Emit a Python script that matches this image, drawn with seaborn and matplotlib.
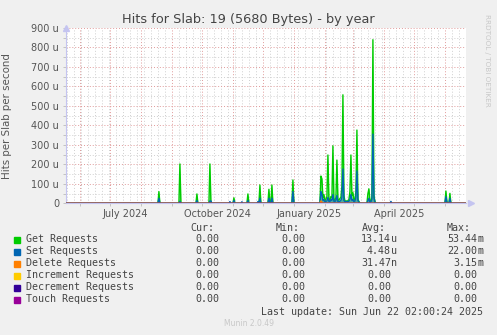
"""Munin 'by year' slab hits graph, redrawn with seaborn."""

import pandas as pd
import matplotlib
matplotlib.use("Agg")
import matplotlib.pyplot as plt
import matplotlib.dates as mdates
import seaborn as sns

# Graph window
start = pd.Timestamp("2024-05-18 02:00")
end = pd.Timestamp("2025-06-22 02:00")

# Daily averages (micro hits per second)
spike_dates = ["2024-08-19", "2024-09-09", "2024-09-26", "2024-10-09", "2024-10-10",
               "2024-10-29", "2024-11-02", "2024-11-10", "2024-11-16", "2024-11-26",
               "2024-11-28", "2024-12-07", "2024-12-10", "2024-12-31", "2025-04-08",
               "2025-06-02", "2025-06-03", "2025-06-06"]
spike_get = [60, 202, 48, 202, 5, 0, 28, 0, 48, 0, 94, 72, 94, 120, 4, 63, 8, 51]
spike_set = [26, 10, 14, 12, 12, 9, 14, 8, 14, 9, 26, 26, 26, 60, 10, 34, 6, 26]

# busy stretch, one value per day from 2025-01-28
busy_start = "2025-01-28"
busy_get = [140, 125, 30, 45, 15, 20, 35, 248, 20, 15, 35, 30, 295, 20, 15, 30,
            222, 20, 15, 25, 30, 90, 557, 40, 12, 12, 12, 12, 20, 60, 248, 40,
            55, 15, 20, 60, 376, 20, 10, 0, 0, 0, 0, 0, 0, 0, 0, 50, 74, 15,
            10, 30, 840, 40, 10]
busy_set = [60, 45, 15, 20, 8, 10, 12, 30, 10, 8, 20, 15, 45, 10, 8, 15,
            40, 8, 8, 10, 15, 30, 176, 15, 8, 8, 10, 8, 10, 20, 45, 15,
            20, 8, 10, 30, 166, 15, 5, 0, 0, 0, 0, 0, 0, 0, 0, 15, 25, 5,
            8, 20, 355, 30, 5]
delete_dates = ["2025-01-28", "2025-01-29"]
delete_vals = [12, 6]

series = ["Get Requests", "Set Requests", "Delete Requests",
          "Increment Requests", "Decrement Requests", "Touch Requests"]
colors = ["#00CC00", "#0066B3", "#FF8000", "#FFCC00", "#330099", "#990099"]
cur_vals = ["0.00"] * 6
min_vals = ["0.00"] * 6
avg_vals = ["13.14u", "4.48u", "31.47n", "0.00", "0.00", "0.00"]
max_vals = ["53.44m", "22.00m", "3.15m", "0.00", "0.00", "0.00"]

x_label_months = ["2024-07-01", "2024-10-01", "2025-01-01", "2025-04-01"]
x_labels = ["July 2024", "October 2024", "January 2025", "April 2025"]
y_ticks = [0, 100, 200, 300, 400, 500, 600, 700, 800, 900]

# Build the daily table
days = pd.date_range("2024-05-18", "2025-06-22", freq="D")
df = pd.DataFrame(0.0, index=days, columns=series)
df.loc[pd.to_datetime(spike_dates), "Get Requests"] = spike_get
df.loc[pd.to_datetime(spike_dates), "Set Requests"] = spike_set
busy_days = pd.date_range(busy_start, periods=len(busy_get), freq="D")
df.loc[busy_days, "Get Requests"] = busy_get
df.loc[busy_days, "Set Requests"] = busy_set
df.loc[pd.to_datetime(delete_dates), "Delete Requests"] = delete_vals
df.index.name = "date"
df = df.reset_index()

W, H = 497, 335
fig = plt.figure(figsize=(W / 100, H / 100), dpi=100, facecolor="#F0F0F0")
ax = fig.add_axes([66 / W, 1 - 203.3 / H, 400 / W, 175.3 / H])
ax.set_facecolor("white")

for name, col in zip(series, colors):
    if df[name].max() > 0:
        ax.fill_between(df["date"], df[name], color=col, alpha=0.45, lw=0)
    sns.lineplot(data=df, x="date", y=name, color=col, lw=1.0, ax=ax,
                 legend=False, zorder=3)

ax.set_xlim(start, end)
ax.set_ylim(0, 900)

# Grid: red monthly / every 100, grey weekly / every 50
ax.xaxis.set_major_locator(mdates.MonthLocator())
ax.xaxis.set_minor_locator(mdates.WeekdayLocator(byweekday=mdates.SU))
ax.xaxis.set_major_formatter(plt.NullFormatter())
ax.set_yticks(y_ticks)
ax.set_yticks([50 + v for v in y_ticks[:-1]], minor=True)
ax.set_yticklabels(["0"] + [f"{v} u" for v in y_ticks[1:]])
ax.grid(which="minor", color="#cfcfcf", ls=(0, (1, 2)), lw=0.7)
ax.grid(which="major", color="#e09a9a", ls=(0, (1, 2)), lw=0.7)
ax.set_axisbelow(True)
ax.tick_params(which="both", length=2, width=0.6, color="#bbbbbb")
ax.tick_params(axis="y", labelsize=7, labelcolor="#555555", pad=3)
ax.tick_params(axis="x", which="minor", length=0)

for side in ["top", "right"]:
    ax.spines[side].set_visible(False)
for side in ["left", "bottom"]:
    ax.spines[side].set_color("#c4c4f0")
    ax.spines[side].set_linewidth(0.8)
ax.plot([0], [1.0], marker="^", ms=4, color="#c4c4f0", transform=ax.transAxes,
        clip_on=False)
ax.plot([1.012], [0], marker=">", ms=4, color="#c4c4f0", transform=ax.transAxes,
        clip_on=False)

# month labels centred in the month
for m, lab in zip(x_label_months, x_labels):
    t = pd.Timestamp(m)
    mid = t + pd.Timedelta(days=t.days_in_month / 2)
    ax.text(mdates.date2num(mid), -0.03, lab, transform=ax.get_xaxis_transform(),
            ha="center", va="top", fontsize=7, color="#555555")

ax.set_xlabel("")
ax.set_ylabel("Hits per Slab per second", fontsize=7.4, color="#555555")
ax.yaxis.set_label_coords(-54 / 400, 0.5)

fig.text(0.5, 1 - 19.5 / H, "Hits for Slab: 19 (5680 Bytes) - by year",
         ha="center", va="center", fontsize=9.3, color="#444444")
fig.text(487 / W, 1 - 14 / H, "RRDTOOL / TOBI OETIKER", rotation=270,
         ha="center", va="top", fontsize=5.2, color="#c8c8c8")

# legend block
mono = dict(family="DejaVu Sans Mono", fontsize=7.2, color="#444444", va="center")


def fx(x):
    return x / W


def fy(y):
    return 1 - y / H


for lab, x in zip(["Cur:", "Min:", "Avg:", "Max:"], [190.7, 276, 362, 447]):
    fig.text(fx(x), fy(228), lab, ha="left", **mono)


def put_value(x_right, y, val):
    num, unit = (val[:-1], val[-1]) if val[-1].isalpha() else (val, "")
    fig.text(fx(x_right), fy(y), num, ha="right", **mono)
    if unit:
        fig.text(fx(x_right), fy(y), unit, ha="left", **mono)


for i, (name, col) in enumerate(zip(series, colors)):
    y = 239.5 + 12 * i
    fig.patches.append(plt.Rectangle((fx(14), fy(y + 3)), 6 / W, 6 / H, color=col,
                                     transform=fig.transFigure, figure=fig))
    fig.text(fx(26), fy(y), name, ha="left", **mono)
    put_value(219, y, cur_vals[i])
    put_value(305, y, min_vals[i])
    put_value(391, y, avg_vals[i])
    put_value(477, y, max_vals[i])

fig.text(fx(483), fy(311.7), "Last update: Sun Jun 22 02:00:24 2025", ha="right", **mono)
fig.text(fx(249), fy(324), "Munin 2.0.49", ha="center", va="center",
         fontsize=5.5, color="#c8c8c8")

fig.savefig("out.png", dpi=100, facecolor=fig.get_facecolor())
